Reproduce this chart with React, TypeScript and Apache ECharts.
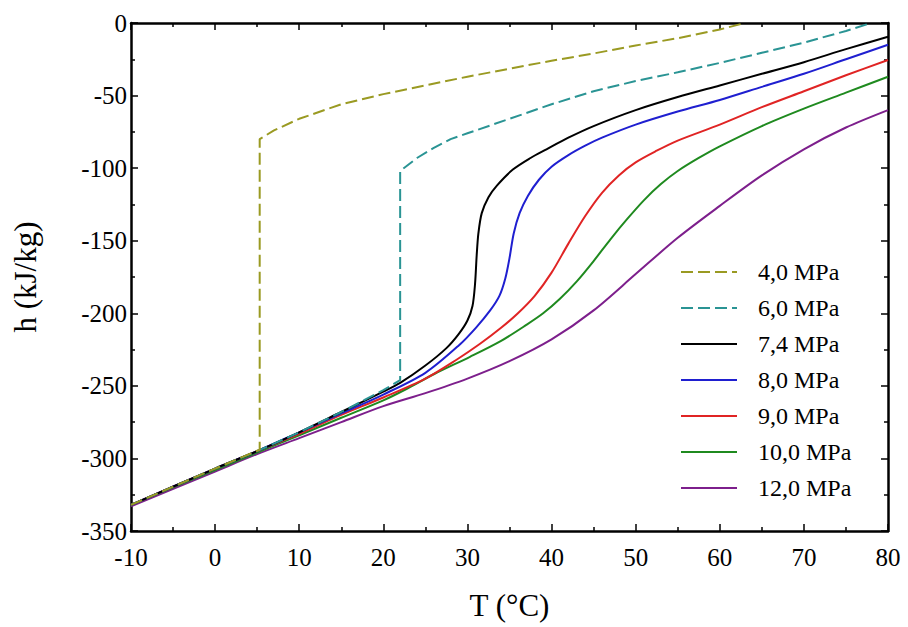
import React, { useEffect, useRef } from "react";
import * as echarts from "echarts";

const xTicks = { min: -10, max: 80, step: 10 };
const yTicks = { min: -350, max: 0, step: 50 };

const seriesNames = ["4,0 MPa", "6,0 MPa", "7,4 MPa", "8,0 MPa", "9,0 MPa", "10,0 MPa", "12,0 MPa"];
const seriesColors = ["#9a9a22", "#2a9494", "#000000", "#1f1fd0", "#e02424", "#1f8a1f", "#7d1f8c"];

const h40: [number, number][] = [
  [-10, -332], [0, -307], [5.3, -294], [5.3, -80], [7, -74], [10, -66], [15, -56], [20, -49],
  [25, -43], [30, -37], [35, -31.5], [40, -26], [45, -21], [50, -15.5], [55, -10.5], [60, -4.5], [63, 0],
];
const h60: [number, number][] = [
  [-10, -332], [0, -307], [5, -295], [10, -282], [15, -268], [20, -253], [22, -246], [22, -102],
  [24, -93], [26, -86], [28, -80], [30, -76], [35, -66], [40, -56], [45, -47], [50, -40], [55, -34],
  [60, -27.5], [65, -20.5], [70, -13.5], [75, -5.5], [78, 0],
];
const h74: [number, number][] = [
  [-10, -332], [0, -307], [5, -295], [10, -282], [15, -268], [20, -254], [22, -248], [25, -236],
  [27.5, -224], [29, -214], [30, -205], [30.6, -195], [30.9, -180], [31.1, -160], [31.3, -145],
  [31.7, -131], [32.5, -120], [33.5, -112], [35.4, -101], [37.5, -93], [39.4, -87], [42, -79],
  [45, -71], [50, -60], [55, -51], [60, -43], [65, -35], [70, -27], [75, -18], [80, -9.5],
];
const h80: [number, number][] = [
  [-10, -332], [0, -307], [5, -295], [10, -282], [15, -269], [20, -256], [25, -241], [29, -222],
  [31, -210], [32.7, -198], [33.8, -188], [34.5, -176], [35, -162], [35.5, -145], [36.2, -131],
  [37.2, -119], [38.5, -108], [40, -99], [42, -91], [44, -84.5], [46, -79], [50, -70], [55, -61],
  [60, -53], [65, -44], [70, -35], [75, -25], [80, -15],
];
const h90: [number, number][] = [
  [-10, -332], [0, -307], [5, -295], [10, -283], [15, -270], [20, -258], [25, -245], [28.7, -232],
  [31.5, -221], [34, -210], [36, -200], [38, -188], [40, -172], [42, -152], [44, -133], [46, -117],
  [48, -105], [50, -96], [52.5, -88], [55, -81], [60, -70], [65, -58], [70, -47], [75, -36], [80, -25.5],
];
const h100: [number, number][] = [
  [-10, -332], [0, -308], [5, -296], [10, -284], [15, -272], [20, -260], [22.8, -252], [26, -242],
  [30.3, -230], [34, -219], [37, -208], [39, -200], [41, -190], [43, -178], [45, -164], [47, -149],
  [49, -135], [51, -122], [53, -111], [55, -102], [57.5, -93], [60, -85], [65, -71], [70, -59],
  [75, -48], [80, -37],
];
const h120: [number, number][] = [
  [-10, -333], [0, -309], [5, -297], [10, -286], [15, -275], [20, -264], [25, -255], [30, -245],
  [35, -233], [40, -218], [45, -198], [50, -173], [55, -148], [60, -126], [65, -105], [70, -87],
  [75, -72], [80, -60],
];

const seriesData = [h40, h60, h74, h80, h90, h100, h120];

const FONT = "'Liberation Serif', 'Times New Roman', serif";

export default function App() {
  const ref = useRef<HTMLDivElement>(null);
  useEffect(() => {
    if (!ref.current) return;
    const chart = echarts.init(ref.current, undefined, { renderer: "svg" });
    const axisLine = { show: true, onZero: false, lineStyle: { color: "#000", width: 2.5 } };
    const tick = { show: true, inside: true, length: 7, lineStyle: { color: "#000", width: 1.5 } };
    const minor = { show: true, splitNumber: 2, length: 4, lineStyle: { color: "#000", width: 1.5 } };
    chart.setOption({
      animation: false,
      backgroundColor: "#fff",
      grid: {
        left: 131,
        top: 23,
        right: 20,
        bottom: 96,
        containLabel: false,
        outerBoundsMode: "none",
      },
      legend: {
        orient: "vertical",
        left: 675,
        top: 255,
        itemWidth: 56,
        itemHeight: 20,
        itemGap: 12,
        itemStyle: { opacity: 0, borderWidth: 0 },
        textStyle: { fontFamily: FONT, fontSize: 24, color: "#000", padding: [0, 0, 0, 16] },
        data: seriesNames,
      },
      xAxis: [
        {
          type: "value",
          min: xTicks.min,
          max: xTicks.max,
          interval: xTicks.step,
          position: "bottom",
          name: "T (°C)",
          nameLocation: "middle",
          nameGap: 59,
          nameTextStyle: { fontFamily: FONT, fontSize: 31, color: "#000" },
          axisLine,
          axisTick: tick,
          minorTick: minor,
          axisLabel: { fontFamily: FONT, fontSize: 25, color: "#000", margin: 14 },
          splitLine: { show: false },
        },
        {
          type: "value",
          min: xTicks.min,
          max: xTicks.max,
          interval: xTicks.step,
          position: "top",
          axisLine,
          axisTick: tick,
          minorTick: minor,
          axisLabel: { show: false },
          splitLine: { show: false },
        },
      ],
      yAxis: [
        {
          type: "value",
          min: yTicks.min,
          max: yTicks.max,
          interval: yTicks.step,
          position: "left",
          name: "h (kJ/kg)",
          nameLocation: "middle",
          nameGap: 90,
          nameTextStyle: { fontFamily: FONT, fontSize: 31, color: "#000" },
          axisLine,
          axisTick: tick,
          minorTick: minor,
          axisLabel: { fontFamily: FONT, fontSize: 25, color: "#000", margin: 4 },
          splitLine: { show: false },
        },
        {
          type: "value",
          min: yTicks.min,
          max: yTicks.max,
          interval: yTicks.step,
          position: "right",
          axisLine,
          axisTick: tick,
          minorTick: minor,
          axisLabel: { show: false },
          splitLine: { show: false },
        },
      ],
      series: seriesNames.map((name, i) => ({
        name,
        type: "line",
        data: seriesData[i],
        showSymbol: false,
        symbol: "none",
        smooth: i >= 2 ? 0.3 : false,
        clip: true,
        color: seriesColors[i],
        lineStyle: {
          color: seriesColors[i],
          width: 2,
          type: i < 2 ? [12, 5] : "solid",
        },
        z: 10 - i,
      })),
    });
    return () => chart.dispose();
  }, []);
  return (
    <div
      ref={ref}
      style={{ position: "absolute", left: 0, top: 0, width: 908, height: 627, overflow: "hidden" }}
    />
  );
}
